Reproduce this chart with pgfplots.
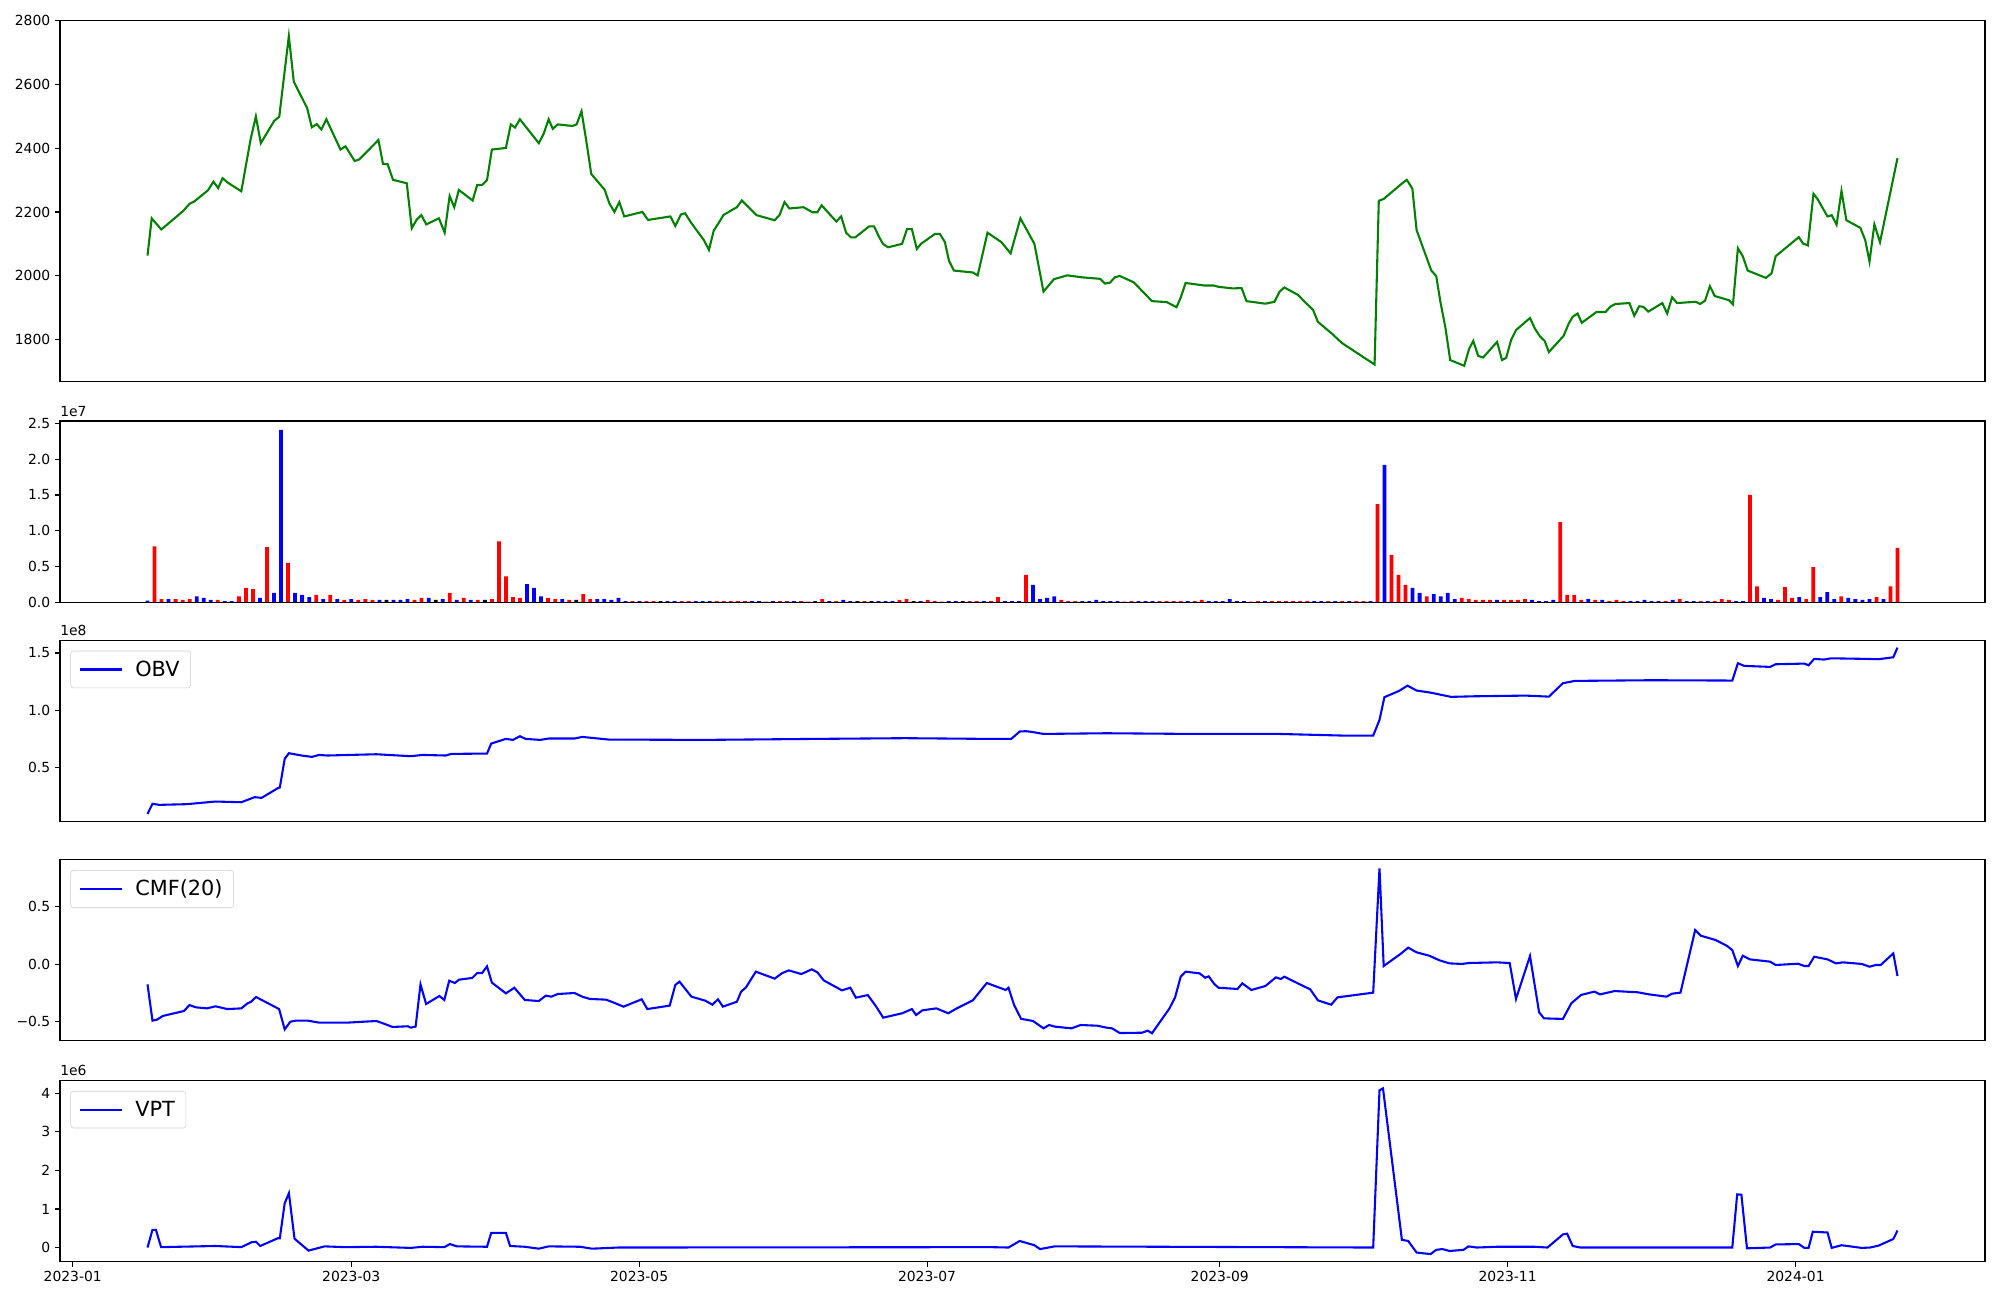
\documentclass[border=0pt]{standalone}
\usepackage{fontspec}
\setmainfont{DejaVu Sans}
\usepackage{pgfplots}
\usepackage{pgfplotstable}
\pgfplotsset{compat=1.18}

\definecolor{mplgreen}{RGB}{0,128,0}

% index i = trading-day number; converted to days since 2023-01-01 with x expr
\pgfplotstableread[row sep=\\]{
i p \\
0 2063 \\ 0.6 2180 \\ 1.97 2145 \\ 5.09 2203 \\ 6.02 2226 \\ 6.62 2232 \\ 8.64 2268 \\ 9.41 2295 \\
10.1 2275 \\ 10.72 2306 \\ 11.54 2291 \\ 13.4 2265 \\ 14.7 2425 \\ 15.48 2500 \\ 16.19 2416 \\ 18.1 2486 \\
18.82 2499 \\ 20.19 2752 \\ 20.9 2609 \\ 22.81 2526 \\ 23.47 2466 \\ 24.18 2476 \\ 24.84 2459 \\ 25.55 2491 \\
27.57 2396 \\ 28.28 2406 \\ 29.6 2360 \\ 30.25 2365 \\ 32.99 2426 \\ 33.64 2351 \\ 34.3 2350 \\ 35.07 2301 \\
37.04 2290 \\ 37.75 2149 \\ 38.46 2176 \\ 39.12 2190 \\ 39.83 2161 \\ 41.63 2180 \\ 42.45 2135 \\ 43.16 2250 \\
43.82 2215 \\ 44.48 2269 \\ 46.45 2236 \\ 47.1 2285 \\ 47.8 2285 \\ 48.5 2300 \\ 49.2 2396 \\ 51.2 2401 \\
51.9 2475 \\ 52.5 2465 \\ 53.2 2491 \\ 55.9 2416 \\ 56.6 2446 \\ 57.3 2491 \\ 57.9 2461 \\ 58.6 2475 \\
60.7 2470 \\ 61.3 2475 \\ 62.0 2516 \\ 62.6 2435 \\ 63.4 2319 \\ 65.3 2270 \\ 66.0 2226 \\ 66.7 2200 \\
67.4 2231 \\ 68.1 2186 \\ 70.7 2200 \\ 71.5 2175 \\ 74.7 2186 \\ 75.4 2156 \\ 76.2 2192 \\ 76.8 2196 \\
77.6 2168 \\ 79.5 2111 \\ 80.2 2081 \\ 80.9 2142 \\ 81.5 2162 \\ 82.3 2191 \\ 84.2 2215 \\ 84.9 2236 \\
87.0 2190 \\ 89.6 2174 \\ 90.3 2191 \\ 91.0 2231 \\ 91.7 2211 \\ 93.7 2215 \\ 95.0 2199 \\ 95.7 2199 \\
96.3 2221 \\ 98.4 2170 \\ 99.1 2186 \\ 99.8 2135 \\ 100.5 2120 \\ 101.1 2120 \\ 103.1 2155 \\ 103.8 2155 \\
104.5 2122 \\ 105.1 2099 \\ 105.8 2089 \\ 107.8 2100 \\ 108.5 2146 \\ 109.2 2146 \\ 109.9 2084 \\ 110.5 2100 \\
112.5 2131 \\ 113.2 2131 \\ 113.9 2106 \\ 114.5 2047 \\ 115.2 2016 \\ 117.9 2010 \\ 118.6 2001 \\ 120.0 2135 \\
122.0 2105 \\ 123.3 2070 \\ 124.7 2180 \\ 126.7 2100 \\ 128.0 1950 \\ 129.5 1989 \\ 131.4 2001 \\ 133.4 1995 \\
136.1 1990 \\ 136.8 1975 \\ 137.5 1978 \\ 138.2 1995 \\ 138.9 1999 \\ 140.9 1979 \\ 143.5 1920 \\ 145.6 1917 \\
147.0 1901 \\ 147.6 1931 \\ 148.3 1977 \\ 151.0 1969 \\ 152.3 1969 \\ 153.0 1965 \\ 155.0 1960 \\ 156.3 1961 \\
157.0 1920 \\ 159.7 1912 \\ 161.0 1918 \\ 161.7 1949 \\ 162.4 1963 \\ 164.4 1939 \\ 165.3 1918 \\ 166.5 1893 \\
167.2 1855 \\ 169.2 1818 \\ 170.6 1789 \\ 175.3 1721 \\ 175.9 2235 \\ 176.6 2241 \\ 179.3 2291 \\ 179.9 2301 \\
180.7 2273 \\ 181.3 2143 \\ 183.4 2016 \\ 184.1 1999 \\ 184.7 1918 \\ 185.4 1839 \\ 186.1 1735 \\ 188.1 1717 \\
188.8 1770 \\ 189.4 1795 \\ 190.1 1748 \\ 190.8 1743 \\ 192.8 1792 \\ 193.5 1735 \\ 194.1 1742 \\ 194.8 1798 \\
195.5 1829 \\ 197.5 1867 \\ 198.2 1834 \\ 198.9 1810 \\ 199.6 1795 \\ 200.2 1760 \\ 202.3 1811 \\ 203.0 1848 \\
203.6 1871 \\ 204.3 1881 \\ 204.9 1852 \\ 207.0 1886 \\ 208.3 1886 \\ 209.0 1903 \\ 209.7 1911 \\ 211.7 1914 \\
212.4 1874 \\ 213.1 1904 \\ 213.7 1902 \\ 214.4 1887 \\ 216.4 1914 \\ 217.1 1881 \\ 217.8 1932 \\ 218.5 1914 \\
221.2 1918 \\ 221.8 1911 \\ 222.5 1921 \\ 223.2 1967 \\ 223.9 1936 \\ 225.9 1923 \\ 226.5 1910 \\ 227.2 2086 \\
227.9 2061 \\ 228.6 2016 \\ 231.2 1993 \\ 232.0 2007 \\ 232.6 2061 \\ 235.9 2121 \\ 236.5 2101 \\ 237.2 2095 \\
238.0 2257 \\ 238.6 2240 \\ 240.0 2186 \\ 240.6 2190 \\ 241.3 2160 \\ 242.0 2266 \\ 242.7 2174 \\ 244.7 2150 \\
245.4 2111 \\ 246.0 2044 \\ 246.7 2161 \\ 247.5 2105 \\ 250.0 2369 \\
}\price

% volume in units of 1e7, one column per bar colour (red, blue, black)
\pgfplotstableread[row sep=\\]{
i r b k \\
0 0 0.02 0 \\ 1 0.78 0 0 \\ 2 0.04 0 0 \\ 3 0 0.04 0 \\ 4 0.04 0 0 \\ 5 0.03 0 0 \\ 6 0.04 0 0 \\ 7 0 0.08 0 \\ 8 0 0.06 0 \\ 9 0 0.03 0 \\
10 0.03 0 0 \\ 11 0 0.015 0 \\ 12 0 0.015 0 \\ 13 0.08 0 0 \\ 14 0.20 0 0 \\ 15 0.18 0 0 \\ 16 0 0.06 0 \\ 17 0.77 0 0 \\ 18 0 0.13 0 \\ 19 0 2.41 0 \\
20 0.55 0 0 \\ 21 0 0.13 0 \\ 22 0 0.10 0 \\ 23 0 0.07 0 \\ 24 0.10 0 0 \\ 25 0 0.04 0 \\ 26 0.10 0 0 \\ 27 0 0.04 0 \\ 28 0.03 0 0 \\ 29 0 0.04 0 \\
30 0.03 0 0 \\ 31 0.04 0 0 \\ 32 0.03 0 0 \\ 33 0 0.03 0 \\ 34 0 0 0.03 \\ 35 0 0.03 0 \\ 36 0 0.03 0 \\ 37 0 0.04 0 \\ 38 0.03 0 0 \\ 39 0.06 0 0 \\
40 0 0.06 0 \\ 41 0 0 0.03 \\ 42 0 0.04 0 \\ 43 0.13 0 0 \\ 44 0 0.03 0 \\ 45 0.06 0 0 \\ 46 0 0.03 0 \\ 47 0.03 0 0 \\ 48 0 0 0.03 \\ 49 0.04 0 0 \\
50 0.85 0 0 \\ 51 0.36 0 0 \\ 52 0.07 0 0 \\ 53 0.06 0 0 \\ 54 0 0.25 0 \\ 55 0 0.20 0 \\ 56 0 0.08 0 \\ 57 0.06 0 0 \\ 58 0.04 0 0 \\ 59 0 0.04 0 \\
60 0.03 0 0 \\ 61 0 0 0.03 \\ 62 0.11 0 0 \\ 63 0.04 0 0 \\ 64 0 0.04 0 \\ 65 0 0.04 0 \\ 66 0 0.03 0 \\ 67 0 0.06 0 \\ 68 0 0.015 0 \\ 69 0.015 0 0 \\
70 0 0.015 0 \\ 71 0.015 0 0 \\ 72 0.015 0 0 \\ 73 0 0 0.015 \\ 74 0 0.015 0 \\ 75 0 0.015 0 \\ 76 0.015 0 0 \\ 77 0.015 0 0 \\ 78 0 0.015 0 \\ 79 0 0.015 0 \\
80 0 0.015 0 \\ 81 0.015 0 0 \\ 82 0.015 0 0 \\ 83 0.015 0 0 \\ 84 0.015 0 0 \\ 85 0.015 0 0 \\ 86 0 0.015 0 \\ 87 0 0.015 0 \\ 88 0.005 0 0 \\ 89 0 0.015 0 \\
90 0.015 0 0 \\ 91 0.015 0 0 \\ 92 0 0.015 0 \\ 93 0.015 0 0 \\ 94 0.005 0 0 \\ 95 0 0 0.015 \\ 96 0.04 0 0 \\ 97 0 0.015 0 \\ 98 0.015 0 0 \\ 99 0 0.03 0 \\
100 0 0.015 0 \\ 101 0 0 0.015 \\ 102 0.015 0 0 \\ 103 0 0 0.015 \\ 104 0 0.015 0 \\ 105 0 0.015 0 \\ 106 0 0.015 0 \\ 107 0.03 0 0 \\ 108 0.04 0 0 \\ 109 0 0 0.015 \\
110 0 0.015 0 \\ 111 0.03 0 0 \\ 112 0.015 0 0 \\ 113 0.005 0 0 \\ 114 0 0.015 0 \\ 115 0 0.015 0 \\ 116 0 0 0.015 \\ 117 0.015 0 0 \\ 118 0.015 0 0 \\ 119 0 0.015 0 \\
120 0.015 0 0 \\ 121 0.07 0 0 \\ 122 0 0.015 0 \\ 123 0 0.015 0 \\ 124 0 0.015 0 \\ 125 0.38 0 0 \\ 126 0 0.24 0 \\ 127 0 0.04 0 \\ 128 0 0.06 0 \\ 129 0 0.08 0 \\
130 0.03 0 0 \\ 131 0.015 0 0 \\ 132 0.015 0 0 \\ 133 0 0.015 0 \\ 134 0 0.015 0 \\ 135 0 0.03 0 \\ 136 0 0.015 0 \\ 137 0 0.015 0 \\ 138 0 0.015 0 \\ 139 0.005 0 0 \\
140 0.015 0 0 \\ 141 0 0.015 0 \\ 142 0 0.015 0 \\ 143 0 0.015 0 \\ 144 0.015 0 0 \\ 145 0.015 0 0 \\ 146 0.015 0 0 \\ 147 0.015 0 0 \\ 148 0 0.015 0 \\ 149 0.015 0 0 \\
150 0.03 0 0 \\ 151 0 0.015 0 \\ 152 0 0.015 0 \\ 153 0 0.015 0 \\ 154 0 0.04 0 \\ 155 0 0.015 0 \\ 156 0 0.015 0 \\ 157 0.005 0 0 \\ 158 0.015 0 0 \\ 159 0 0.015 0 \\
160 0.015 0 0 \\ 161 0.015 0 0 \\ 162 0.015 0 0 \\ 163 0.015 0 0 \\ 164 0.015 0 0 \\ 165 0.015 0 0 \\ 166 0 0.015 0 \\ 167 0 0.015 0 \\ 168 0.015 0 0 \\ 169 0 0.015 0 \\
170 0.015 0 0 \\ 171 0 0.015 0 \\ 172 0.015 0 0 \\ 173 0.015 0 0 \\ 174 0 0.015 0 \\ 175 1.37 0 0 \\ 176 0 1.92 0 \\ 177 0.66 0 0 \\ 178 0.38 0 0 \\ 179 0.24 0 0 \\
180 0 0.20 0 \\ 181 0 0.13 0 \\ 182 0.08 0 0 \\ 183 0 0.11 0 \\ 184 0 0.08 0 \\ 185 0 0.13 0 \\ 186 0 0.04 0 \\ 187 0.06 0 0 \\ 188 0.04 0 0 \\ 189 0.03 0 0 \\
190 0.03 0 0 \\ 191 0.03 0 0 \\ 192 0 0.03 0 \\ 193 0.03 0 0 \\ 194 0.03 0 0 \\ 195 0.03 0 0 \\ 196 0.04 0 0 \\ 197 0 0.03 0 \\ 198 0 0.015 0 \\ 199 0 0.015 0 \\
200 0 0.03 0 \\ 201 1.12 0 0 \\ 202 0.10 0 0 \\ 203 0.10 0 0 \\ 204 0.03 0 0 \\ 205 0 0.04 0 \\ 206 0.03 0 0 \\ 207 0 0.03 0 \\ 208 0.015 0 0 \\ 209 0.03 0 0 \\
210 0.015 0 0 \\ 211 0 0.015 0 \\ 212 0 0.015 0 \\ 213 0 0.03 0 \\ 214 0 0.015 0 \\ 215 0 0.015 0 \\ 216 0.015 0 0 \\ 217 0 0.03 0 \\ 218 0.04 0 0 \\ 219 0 0.015 0 \\
220 0 0.015 0 \\ 221 0.015 0 0 \\ 222 0 0.015 0 \\ 223 0.015 0 0 \\ 224 0.04 0 0 \\ 225 0.03 0 0 \\ 226 0 0.015 0 \\ 227 0 0.015 0 \\ 228 1.50 0 0 \\ 229 0.22 0 0 \\
230 0 0.06 0 \\ 231 0 0.04 0 \\ 232 0.03 0 0 \\ 233 0.21 0 0 \\ 234 0.06 0 0 \\ 235 0 0.07 0 \\ 236 0.04 0 0 \\ 237 0.49 0 0 \\ 238 0 0.07 0 \\ 239 0 0.14 0 \\
240 0 0.04 0 \\ 241 0.08 0 0 \\ 242 0 0.06 0 \\ 243 0 0.04 0 \\ 244 0 0.03 0 \\ 245 0 0.04 0 \\ 246 0.07 0 0 \\ 247 0 0.04 0 \\ 248 0.22 0 0 \\ 249 0.76 0 0 \\
}\volume

% OBV in units of 1e8
\pgfplotstableread[row sep=\\]{
i v \\
0 0.098 \\ 0.71 0.186 \\ 1.69 0.177 \\ 5.6 0.183 \\ 9.7 0.206 \\ 13.4 0.200 \\ 15.3 0.244 \\ 16.3 0.238 \\
18.6 0.322 \\ 18.9 0.328 \\ 19.6 0.578 \\ 20.2 0.627 \\ 22.0 0.607 \\ 23.5 0.595 \\ 24.5 0.612 \\ 25.7 0.607 \\
32.7 0.618 \\ 37.6 0.601 \\ 39.3 0.612 \\ 42.6 0.607 \\ 43.4 0.621 \\ 48.5 0.624 \\ 49.1 0.711 \\ 51.2 0.752 \\
52.2 0.743 \\ 53.2 0.775 \\ 54.0 0.752 \\ 56.1 0.743 \\ 57.3 0.755 \\ 61.0 0.755 \\ 62.1 0.769 \\ 65.9 0.746 \\
79.5 0.743 \\ 95.9 0.752 \\ 108.2 0.758 \\ 119.7 0.752 \\ 123.4 0.752 \\ 124.6 0.816 \\ 125.5 0.819 \\ 126.3 0.813 \\
128.0 0.795 \\ 137.0 0.801 \\ 149.3 0.795 \\ 161.6 0.795 \\ 170.6 0.781 \\ 175.1 0.781 \\ 176.0 0.917 \\ 176.7 1.115 \\
178.8 1.170 \\ 180.0 1.216 \\ 181.3 1.173 \\ 183.3 1.155 \\ 186.2 1.118 \\ 189.5 1.123 \\ 196.9 1.129 \\ 200.2 1.120 \\
202.2 1.237 \\ 203.9 1.257 \\ 214.9 1.263 \\ 226.4 1.260 \\ 227.2 1.411 \\ 228.1 1.388 \\ 231.8 1.379 \\ 232.6 1.402 \\
236.7 1.408 \\ 237.3 1.393 \\ 238.1 1.449 \\ 239.5 1.443 \\ 240.5 1.454 \\ 245.3 1.449 \\ 247.3 1.446 \\ 249.4 1.463 \\
250.0 1.547 \\
}\obv

\pgfplotstableread[row sep=\\]{
i v \\
0 -0.175 \\ 0.71 -0.491 \\ 1.37 -0.482 \\ 2.19 -0.450 \\ 5.2 -0.407 \\ 6.0 -0.355 \\ 6.9 -0.375 \\ 8.5 -0.384 \\
9.7 -0.366 \\ 11.4 -0.390 \\ 13.4 -0.384 \\ 14.3 -0.340 \\ 14.8 -0.326 \\ 15.5 -0.285 \\ 18.8 -0.390 \\ 19.6 -0.567 \\
20.4 -0.500 \\ 21.2 -0.491 \\ 22.9 -0.491 \\ 24.5 -0.508 \\ 28.6 -0.508 \\ 32.7 -0.494 \\ 33.9 -0.520 \\ 35.0 -0.546 \\
37.2 -0.540 \\ 37.6 -0.552 \\ 38.3 -0.543 \\ 39.0 -0.175 \\ 39.8 -0.346 \\ 41.7 -0.276 \\ 42.4 -0.311 \\ 43.1 -0.143 \\
43.9 -0.163 \\ 44.5 -0.134 \\ 46.4 -0.119 \\ 47.1 -0.076 \\ 47.8 -0.076 \\ 48.5 -0.018 \\ 49.2 -0.160 \\ 51.2 -0.253 \\
52.4 -0.204 \\ 53.9 -0.311 \\ 55.9 -0.320 \\ 56.9 -0.273 \\ 57.7 -0.282 \\ 58.6 -0.259 \\ 61.0 -0.250 \\ 62.1 -0.282 \\
63.2 -0.302 \\ 65.5 -0.308 \\ 66.5 -0.331 \\ 68.0 -0.369 \\ 70.6 -0.305 \\ 71.4 -0.390 \\ 74.6 -0.360 \\ 75.4 -0.180 \\
76.0 -0.151 \\ 77.7 -0.282 \\ 79.7 -0.317 \\ 80.7 -0.352 \\ 81.5 -0.305 \\ 82.2 -0.369 \\ 84.2 -0.326 \\ 84.8 -0.238 \\
85.5 -0.201 \\ 86.9 -0.064 \\ 89.6 -0.125 \\ 90.6 -0.079 \\ 91.6 -0.053 \\ 93.4 -0.085 \\ 94.9 -0.044 \\ 95.7 -0.070 \\
96.6 -0.140 \\ 99.2 -0.227 \\ 100.4 -0.204 \\ 101.2 -0.291 \\ 102.9 -0.268 \\ 104.1 -0.369 \\ 105.1 -0.465 \\ 107.8 -0.427 \\
109.2 -0.390 \\ 109.8 -0.442 \\ 110.7 -0.401 \\ 112.7 -0.384 \\ 114.4 -0.427 \\ 115.6 -0.384 \\ 117.9 -0.314 \\ 119.9 -0.163 \\
122.6 -0.224 \\ 123.0 -0.204 \\ 123.8 -0.355 \\ 124.8 -0.475 \\ 126.5 -0.494 \\ 128.0 -0.558 \\ 128.8 -0.529 \\ 129.6 -0.543 \\
132.0 -0.558 \\ 133.3 -0.529 \\ 135.7 -0.535 \\ 137.0 -0.552 \\ 137.8 -0.558 \\ 138.9 -0.599 \\ 142.1 -0.596 \\ 142.9 -0.578 \\
143.5 -0.601 \\ 146.0 -0.384 \\ 146.8 -0.288 \\ 147.6 -0.108 \\ 148.3 -0.064 \\ 150.3 -0.079 \\ 151.1 -0.117 \\ 151.6 -0.105 \\
152.4 -0.172 \\ 153.0 -0.204 \\ 155.7 -0.215 \\ 156.4 -0.166 \\ 157.7 -0.224 \\ 159.7 -0.189 \\ 161.2 -0.114 \\ 161.9 -0.128 \\
162.4 -0.108 \\ 165.1 -0.189 \\ 166.1 -0.218 \\ 167.2 -0.314 \\ 169.1 -0.352 \\ 170.0 -0.288 \\ 175.1 -0.247 \\ 176.0 0.836 \\
176.6 -0.015 \\ 179.0 0.090 \\ 180.1 0.145 \\ 181.3 0.104 \\ 183.1 0.075 \\ 184.6 0.034 \\ 186.0 0.008 \\ 187.8 0.003 \\
188.7 0.011 \\ 192.8 0.017 \\ 194.6 0.011 \\ 195.5 -0.302 \\ 197.5 0.072 \\ 198.8 -0.418 \\ 199.5 -0.471 \\ 202.2 -0.476 \\
203.4 -0.340 \\ 204.8 -0.267 \\ 206.7 -0.238 \\ 207.5 -0.262 \\ 209.6 -0.233 \\ 212.9 -0.244 \\ 214.5 -0.262 \\ 217.0 -0.282 \\
217.8 -0.256 \\ 219.0 -0.247 \\ 221.1 0.299 \\ 221.9 0.249 \\ 224.0 0.212 \\ 225.6 0.162 \\ 226.4 0.124 \\ 227.2 -0.015 \\
227.9 0.075 \\ 228.9 0.043 \\ 231.8 0.023 \\ 232.6 -0.006 \\ 235.8 0.005 \\ 236.7 -0.015 \\ 237.3 -0.015 \\ 238.1 0.066 \\
240.0 0.043 \\ 241.2 0.008 \\ 242.2 0.017 \\ 244.9 0.003 \\ 246.0 -0.021 \\ 246.9 -0.006 \\ 247.6 -0.006 \\ 249.4 0.095 \\
250.0 -0.102 \\
}\cmf

% VPT in units of 1e6
\pgfplotstableread[row sep=\\]{
i v \\
0 0.0 \\ 0.71 0.46 \\ 1.2 0.46 \\ 1.94 0.01 \\ 9.7 0.04 \\ 13.4 0.01 \\ 14.9 0.14 \\ 15.5 0.15 \\
16.1 0.04 \\ 18.6 0.24 \\ 18.9 0.24 \\ 19.6 1.15 \\ 20.2 1.41 \\ 21.0 0.23 \\ 23.0 -0.08 \\ 25.3 0.03 \\
28.2 0.01 \\ 32.7 0.02 \\ 37.6 -0.01 \\ 39.3 0.02 \\ 42.4 0.01 \\ 43.2 0.09 \\ 44.2 0.03 \\ 48.5 0.02 \\
49.1 0.38 \\ 51.2 0.38 \\ 51.8 0.04 \\ 53.9 0.02 \\ 55.9 -0.03 \\ 57.3 0.03 \\ 61.8 0.02 \\ 63.5 -0.03 \\
67.2 0.0 \\ 120.5 0.01 \\ 123.0 0.0 \\ 124.6 0.17 \\ 126.7 0.06 \\ 127.5 -0.04 \\ 129.6 0.03 \\ 175.1 0.0 \\
176.0 4.08 \\ 176.5 4.13 \\ 179.2 0.20 \\ 180.1 0.17 \\ 181.3 -0.13 \\ 183.3 -0.17 \\ 184.1 -0.06 \\ 185.0 -0.04 \\
186.0 -0.09 \\ 188.0 -0.06 \\ 188.7 0.03 \\ 189.9 0.0 \\ 192.8 0.02 \\ 198.1 0.02 \\ 200.0 0.0 \\ 202.2 0.34 \\
202.8 0.36 \\ 203.6 0.04 \\ 204.7 0.0 \\ 226.4 0.0 \\ 227.1 1.38 \\ 227.7 1.37 \\ 228.5 -0.02 \\ 231.8 0.0 \\
232.6 0.08 \\ 235.9 0.09 \\ 236.7 -0.01 \\ 237.3 -0.01 \\ 237.9 0.41 \\ 240.0 0.39 \\ 240.6 -0.01 \\ 242.0 0.06 \\
244.9 -0.01 \\ 246.1 0.0 \\ 247.3 0.05 \\ 249.4 0.22 \\ 250.0 0.44 \\
}\vpt

\pgfplotsset{
  panel/.style={
    scale only axis, width=1386pt,
    xmin=-2.7, xmax=405.14, xtick=\empty,
    clip mode=individual,
    axis line style={line width=0.8pt},
    tick style={black, line width=0.8pt},
    tick align=outside, major tick length=3.5pt,
    ytick pos=left, xtick pos=bottom,
    tick label style={font=\fontsize{10}{12}\selectfont},
    /pgf/number format/assume math mode=true,
    anchor=north west,
    legend style={at={(0,1)}, anchor=north west, xshift=7.5pt, yshift=-7.5pt,
      draw=white!80!black, rounded corners=2pt, fill=white, fill opacity=0.8,
      text opacity=1, font=\fontsize{15}{18}\selectfont,
      inner xsep=6pt, inner ysep=5pt,
      /tikz/every odd column/.append style={column sep=7pt}},
    legend image code/.code={\draw[#1] (0pt,0pt) -- (30pt,0pt);},
  },
  line/.style={blue, line width=1.5pt},
  bars/.style={ybar, bar width=0.8, bar shift=0pt, draw=none},
}

\newcommand{\offsettext}[1]{\node[anchor=south west, inner sep=0pt, font=\fontsize{10}{12}\selectfont] at (rel axis cs:0,1) [yshift=3pt] {#1};}

\begin{document}
\begin{tikzpicture}
\path[use as bounding box] (-43.2pt,14.7pt) rectangle (1396.8pt,-921.3pt);

\begin{axis}[panel, height=259.9pt, at={(0pt,0pt)},
  ymin=1668, ymax=2801.5, ytick={1800,2000,2200,2400,2600,2800},
  yticklabels={1800,2000,2200,2400,2600,2800}]
\addplot[mplgreen, line width=1.5pt] table[x expr=15.84+1.483*\thisrow{i}, y=p] {\price};
\end{axis}

\begin{axis}[panel, height=130.4pt, at={(0pt,-288.4pt)},
  ymin=0, ymax=2.536, ytick={0,0.5,1,1.5,2,2.5},
  yticklabels={0.0,0.5,1.0,1.5,2.0,2.5}]
\addplot[bars, fill=red] table[x expr=15.84+1.489*\thisrow{i}, y=r] {\volume};
\addplot[bars, fill=blue] table[x expr=15.84+1.489*\thisrow{i}, y=b] {\volume};
\addplot[bars, fill=black] table[x expr=15.84+1.489*\thisrow{i}, y=k] {\volume};
\offsettext{1e7}
\end{axis}

\begin{axis}[panel, height=130.4pt, at={(0pt,-446.3pt)},
  ymin=0.033, ymax=1.611, ytick={0.5,1,1.5}, yticklabels={0.5,1.0,1.5}]
\addplot[line] table[x expr=15.84+1.483*\thisrow{i}, y=v] {\obv};
\addlegendentry{OBV}
\offsettext{1e8}
\end{axis}

\begin{axis}[panel, height=130.4pt, at={(0pt,-604.3pt)},
  ymin=-0.667, ymax=0.911, ytick={-0.5,0,0.5}, yticklabels={−0.5,0.0,0.5}]
\addplot[line] table[x expr=15.84+1.483*\thisrow{i}, y=v] {\cmf};
\addlegendentry{CMF(20)}
\end{axis}

\begin{axis}[panel, height=130.4pt, at={(0pt,-763.3pt)},
  ymin=-0.367, ymax=4.333, ytick={0,1,2,3,4}, yticklabels={0,1,2,3,4},
  xtick={0,59,120,181,243,304,365},
  xticklabels={2023-01,2023-03,2023-05,2023-07,2023-09,2023-11,2024-01}]
\addplot[line] table[x expr=15.84+1.483*\thisrow{i}, y=v] {\vpt};
\addlegendentry{VPT}
\offsettext{1e6}
\end{axis}
\end{tikzpicture}
\end{document}
